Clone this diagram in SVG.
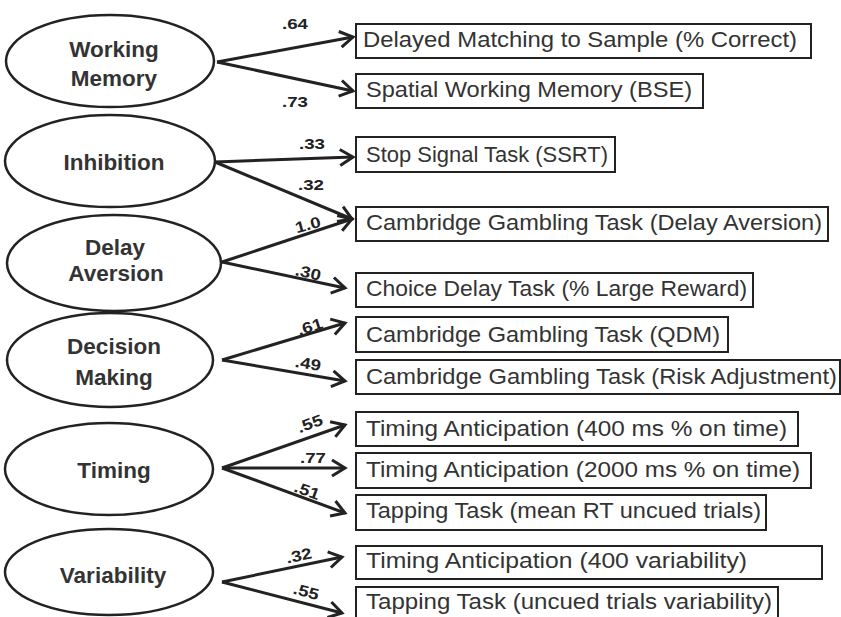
<svg xmlns="http://www.w3.org/2000/svg" width="841" height="617" viewBox="0 0 841 617">
<defs>
<marker id="arr" markerUnits="userSpaceOnUse" markerWidth="22" markerHeight="22" viewBox="-16 -11 18 22" refX="0" refY="0" orient="auto">
<path d="M-13,-8 L0,0 L-13,8" fill="none" stroke="#222" stroke-width="3" stroke-linejoin="miter"/>
</marker>
</defs>
<style>
.ell{fill:#fff;stroke:#222;stroke-width:2.5}
.lat{font-family:"Liberation Sans",Arial,sans-serif;font-weight:bold;font-size:22.5px;fill:#333;text-anchor:middle}
.box{fill:#fff;stroke:#222;stroke-width:2}
.obs{font-family:"Liberation Sans",Arial,sans-serif;font-size:22.5px;fill:#333}
.con{stroke:#222;stroke-width:3;fill:none;marker-end:url(#arr)}
.lbl{font-family:"Liberation Sans",Arial,sans-serif;font-weight:bold;font-size:15.5px;fill:#222;text-anchor:middle}
</style>
<rect width="841" height="617" fill="#fff"/>
<g id="connectors">
<line class="con" x1="217" y1="62" x2="353" y2="37"/>
<line class="con" x1="217" y1="62" x2="353" y2="91"/>
<line class="con" x1="215" y1="162" x2="353" y2="157"/>
<line class="con" x1="215" y1="162" x2="352" y2="219"/>
<line class="con" x1="222" y1="262" x2="352" y2="219"/>
<line class="con" x1="222" y1="262" x2="345" y2="288"/>
<line class="con" x1="222" y1="360" x2="345" y2="323"/>
<line class="con" x1="222" y1="360" x2="345" y2="381"/>
<line class="con" x1="222" y1="468" x2="345" y2="425"/>
<line class="con" x1="222" y1="468" x2="345" y2="468"/>
<line class="con" x1="222" y1="468" x2="345" y2="513"/>
<line class="con" x1="222" y1="582" x2="342" y2="557"/>
<line class="con" x1="222" y1="582" x2="342" y2="613"/>
<text class="lbl" x="295" y="29" textLength="26" lengthAdjust="spacingAndGlyphs">.64</text>
<text class="lbl" x="295" y="107" textLength="26" lengthAdjust="spacingAndGlyphs">.73</text>
<text class="lbl" x="312" y="149" textLength="26" lengthAdjust="spacingAndGlyphs">.33</text>
<text class="lbl" x="311" y="190" textLength="26" lengthAdjust="spacingAndGlyphs">.32</text>
<text class="lbl" x="308" y="230" textLength="26" lengthAdjust="spacingAndGlyphs" transform="rotate(-15 308 225)">1.0</text>
<text class="lbl" x="308" y="278" textLength="26" lengthAdjust="spacingAndGlyphs" transform="rotate(13 308 273)">.30</text>
<text class="lbl" x="310" y="332" textLength="26" lengthAdjust="spacingAndGlyphs" transform="rotate(-18 310 327)">.61</text>
<text class="lbl" x="308" y="369" textLength="26" lengthAdjust="spacingAndGlyphs" transform="rotate(10 308 364)">.49</text>
<text class="lbl" x="310" y="429" textLength="26" lengthAdjust="spacingAndGlyphs" transform="rotate(-20 310 424)">.55</text>
<text class="lbl" x="313" y="463" textLength="26" lengthAdjust="spacingAndGlyphs">.77</text>
<text class="lbl" x="307" y="496" textLength="26" lengthAdjust="spacingAndGlyphs" transform="rotate(20 307 491)">.51</text>
<text class="lbl" x="299" y="561" textLength="26" lengthAdjust="spacingAndGlyphs" transform="rotate(-12 299 556)">.32</text>
<text class="lbl" x="306" y="597" textLength="26" lengthAdjust="spacingAndGlyphs" transform="rotate(15 306 592)">.55</text>
</g>
<g id="working-memory">
<ellipse class="ell" cx="110" cy="61" rx="104" ry="46"/>
<text class="lat" x="114" y="57">Working</text>
<text class="lat" x="114" y="86">Memory</text>
</g>
<g id="inhibition">
<ellipse class="ell" cx="110" cy="161" rx="105" ry="46"/>
<text class="lat" x="114" y="170">Inhibition</text>
</g>
<g id="delay-aversion">
<ellipse class="ell" cx="114" cy="263" rx="107" ry="48"/>
<text class="lat" x="115" y="255">Delay</text>
<text class="lat" x="116" y="281">Aversion</text>
</g>
<g id="decision-making">
<ellipse class="ell" cx="110" cy="360" rx="103" ry="47"/>
<text class="lat" x="114" y="354">Decision</text>
<text class="lat" x="114" y="385">Making</text>
</g>
<g id="timing">
<ellipse class="ell" cx="109" cy="469" rx="104" ry="46"/>
<text class="lat" x="114" y="478">Timing</text>
</g>
<g id="variability">
<ellipse class="ell" cx="109" cy="572" rx="104" ry="43"/>
<text class="lat" x="113" y="583">Variability</text>
</g>
<g id="dms">
<rect class="box" x="356" y="24" width="455" height="34"/>
<text class="obs" x="363" y="47" textLength="434" lengthAdjust="spacingAndGlyphs">Delayed Matching to Sample (% Correct)</text>
</g>
<g id="swm">
<rect class="box" x="356" y="74" width="347" height="34"/>
<text class="obs" x="366" y="97" textLength="326" lengthAdjust="spacingAndGlyphs">Spatial Working Memory (BSE)</text>
</g>
<g id="sst">
<rect class="box" x="356" y="137" width="259" height="35"/>
<text class="obs" x="366" y="162" textLength="242" lengthAdjust="spacingAndGlyphs">Stop Signal Task (SSRT)</text>
</g>
<g id="cgt-da">
<rect class="box" x="356" y="207" width="472" height="34"/>
<text class="obs" x="366" y="230" textLength="456" lengthAdjust="spacingAndGlyphs">Cambridge Gambling Task (Delay Aversion)</text>
</g>
<g id="cdt">
<rect class="box" x="356" y="273" width="397" height="34"/>
<text class="obs" x="366" y="296" textLength="381" lengthAdjust="spacingAndGlyphs">Choice Delay Task (% Large Reward)</text>
</g>
<g id="cgt-qdm">
<rect class="box" x="356" y="317" width="372" height="35"/>
<text class="obs" x="366" y="342" textLength="354" lengthAdjust="spacingAndGlyphs">Cambridge Gambling Task (QDM)</text>
</g>
<g id="cgt-ra">
<rect class="box" x="356" y="360" width="484" height="34"/>
<text class="obs" x="366" y="384" textLength="471" lengthAdjust="spacingAndGlyphs">Cambridge Gambling Task (Risk Adjustment)</text>
</g>
<g id="ta400">
<rect class="box" x="356" y="412" width="442" height="34"/>
<text class="obs" x="366" y="436" textLength="421" lengthAdjust="spacingAndGlyphs">Timing Anticipation (400 ms % on time)</text>
</g>
<g id="ta2000">
<rect class="box" x="356" y="453" width="455" height="35"/>
<text class="obs" x="366" y="477" textLength="434" lengthAdjust="spacingAndGlyphs">Timing Anticipation (2000 ms % on time)</text>
</g>
<g id="tap-rt">
<rect class="box" x="356" y="495" width="410" height="35"/>
<text class="obs" x="366" y="518" textLength="395" lengthAdjust="spacingAndGlyphs">Tapping Task (mean RT uncued trials)</text>
</g>
<g id="ta400v">
<rect class="box" x="356" y="546" width="466" height="33"/>
<text class="obs" x="366" y="568" textLength="381" lengthAdjust="spacingAndGlyphs">Timing Anticipation (400 variability)</text>
</g>
<g id="tap-var">
<rect class="box" x="356" y="587" width="422" height="40"/>
<text class="obs" x="366" y="609" textLength="406" lengthAdjust="spacingAndGlyphs">Tapping Task (uncued trials variability)</text>
</g>
</svg>
